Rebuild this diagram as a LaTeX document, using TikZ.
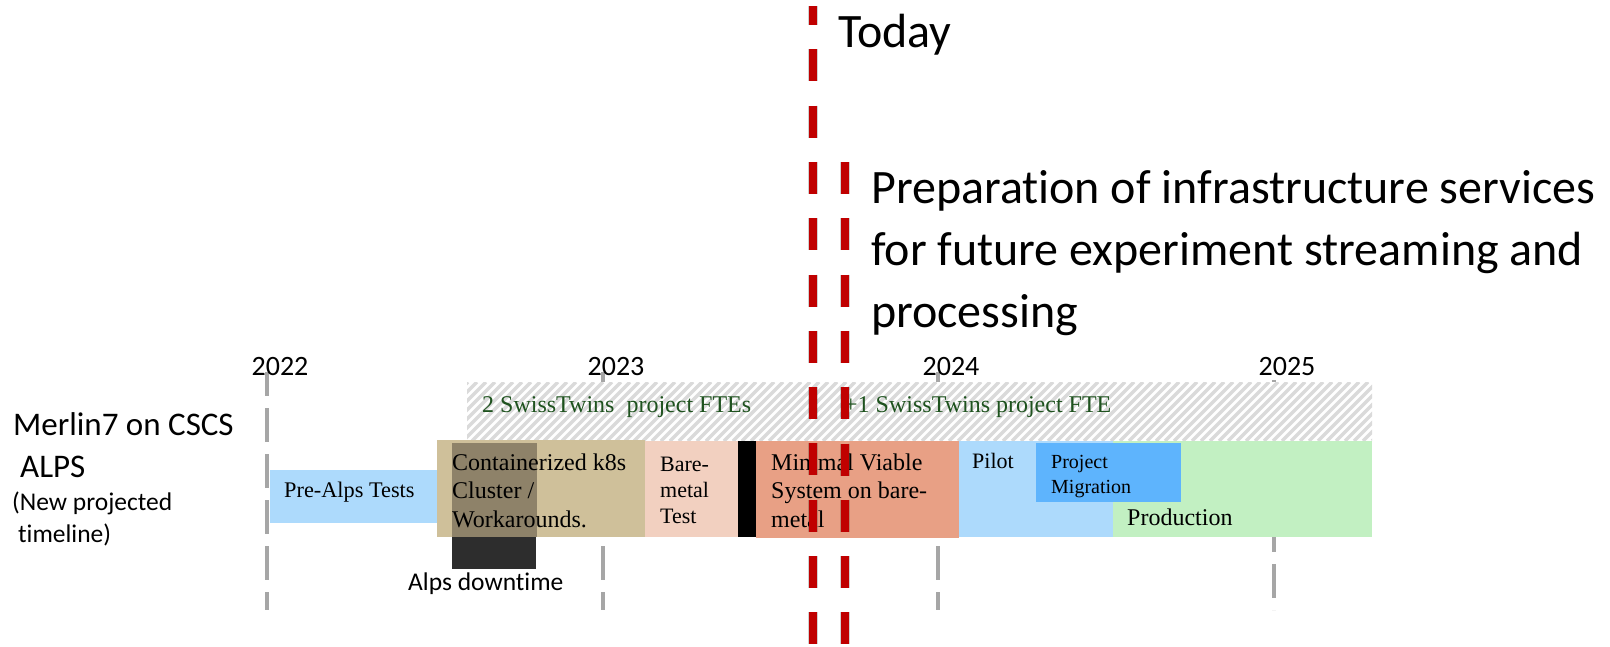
\documentclass[tikz,border=0pt]{standalone}
\usepackage{fontspec}
\setmainfont{Liberation Serif}
\newfontfamily\calib[Ligatures=NoCommon]{Carlito}
\definecolor{ygray}{RGB}{166,166,166}
\definecolor{hatchgray}{RGB}{218,218,218}
\definecolor{todayred}{RGB}{192,0,0}
\definecolor{lblue}{RGB}{173,218,252}
\definecolor{mblue}{RGB}{94,180,253}
\definecolor{tan}{RGB}{207,192,154}
\definecolor{darktan}{RGB}{142,130,105}
\definecolor{downblack}{RGB}{45,45,45}
\definecolor{bare}{RGB}{242,208,192}
\definecolor{salmon}{RGB}{232,160,133}
\definecolor{prodgreen}{RGB}{194,240,194}
\definecolor{ftegreen}{RGB}{30,82,30}
\tikzset{
  yearline/.style={draw=ygray, line width=4pt, dash pattern=on 34pt off 12pt},
  redline/.style={draw=todayred, line width=8pt, dash pattern=on 32pt off 24.3pt},
  redshadow/.style={draw=black, opacity=0.18, line width=10pt, dash pattern=on 32pt off 24.3pt},
  hatchline/.style={draw=hatchgray, line width=3.3pt},
  lbl/.style={inner sep=0pt, anchor=base west, align=left},
  yearlbl/.style={inner sep=0pt, anchor=base, font=\calib\fontsize{28}{32}\selectfont},
}
\begin{document}
\begin{tikzpicture}[x=1pt,y=-1pt]
\useasboundingbox (0,0) rectangle (1610,646);
% year grid lines
\coordinate (y22t) at (267,372); \coordinate (y22b) at (267,610);
\coordinate (y23t) at (603,372); \coordinate (y23b) at (603,610);
\coordinate (y24t) at (938,372); \coordinate (y24b) at (938,610);
\coordinate (y25t) at (1274,372); \coordinate (y25b) at (1274,610);
\draw[yearline, dash phase=10pt] (y22t) -- (y22b);
\draw[yearline, dash phase=10pt] (y23t) -- (y23b);
\draw[yearline, dash phase=10pt] (y24t) -- (y24b);
\draw[yearline, dash phase=38pt] (y25t) -- (y25b);
% year labels
\node[yearlbl] (l22) at (280,375) {2022};
\node[yearlbl] (l23) at (616,375) {2023};
\node[yearlbl] (l24) at (951,375) {2024};
\node[yearlbl] (l25) at (1287,375) {2025};
% hatched FTE band
\begin{scope}
  \clip (467,382) rectangle (1372,441);
  \fill[white] (467,382) rectangle (1372,441);
  \foreach \i in {400,409,...,1380} \draw[hatchline] (\i,441) -- ++(59,-59);
\end{scope}
\node[lbl, text=ftegreen, font=\fontsize{24}{28}\selectfont] (fte2) at (482,412) {2 SwissTwins~~project FTEs};
\node[lbl, text=ftegreen, font=\fontsize{24}{28}\selectfont] (fte1) at (844,412) {+1 SwissTwins project FTE};
% boxes
\fill[lblue] (270,470) rectangle (438,523);
\fill[tan] (437,440) rectangle (645,537);
\fill[darktan] (452,443) rectangle (537,537);
\fill[downblack] (452,537) rectangle (536,569);
\fill[bare] (645,441) rectangle (738,537);
\fill[black] (738,441) rectangle (756,537);
\fill[salmon] (756,441) rectangle (959,538);
\fill[lblue] (959,441) rectangle (1113,537);
\fill[prodgreen] (1113,441) rectangle (1372,537);
\fill[mblue] (1036,443) rectangle (1181,502);
% box texts (multi-line nodes: base = last line baseline)
\node[lbl, font=\fontsize{22.3}{26}\selectfont] (prealps) at (284,497) {Pre-Alps Tests};
\node[lbl, font=\fontsize{24}{28.5}\selectfont] (k8s) at (452,527) {Containerized k8s\\Cluster /\\Workarounds.};
\node[lbl, font=\fontsize{22}{26}\selectfont] (baremetal) at (660,523) {Bare-\\metal\\Test};
\node[lbl, font=\fontsize{24}{28.5}\selectfont] (mvs) at (771,527) {Minimal Viable\\System on bare-\\metal};
\node[lbl, font=\fontsize{22}{26}\selectfont] (pilot) at (972,468) {Pilot};
\node[lbl, font=\fontsize{20}{25}\selectfont] (migr) at (1051,493) {Project\\Migration};
\node[lbl, font=\fontsize{24}{28}\selectfont] (prod) at (1127,525) {Production};
\node[lbl, font=\calib\fontsize{25.5}{28}\selectfont] (down) at (408,590) {Alps downtime};
% left labels
\node[lbl, font=\calib\fontsize{33}{42}\selectfont] (merlin) at (13,477) {Merlin7 on CSCS\\\hspace*{7pt}ALPS};
\node[lbl, font=\calib\fontsize{25.5}{32}\selectfont] (newtl) at (12,542) {(New projected\\\hspace*{6pt}timeline)};
% today lines
\coordinate (t1a) at (813,6); \coordinate (t1b) at (813,646);
\coordinate (t2a) at (845,162); \coordinate (t2b) at (845,646);
\draw[redshadow, dash phase=13pt, shift={(2pt,-3pt)}] (t1a) -- (t1b);
\draw[redshadow, shift={(2pt,-3pt)}] (t2a) -- (t2b);
\draw[redline, dash phase=13pt] (t1a) -- (t1b);
\draw[redline] (t2a) -- (t2b);
\node[lbl, font=\calib\fontsize{48}{56}\selectfont] (today) at (838,47) {Today};
\node[lbl, font=\calib\fontsize{48}{62}\selectfont] (prep) at (871,327) {Preparation of infrastructure services\\for future experiment streaming and\\processing};
\end{tikzpicture}
\end{document}
